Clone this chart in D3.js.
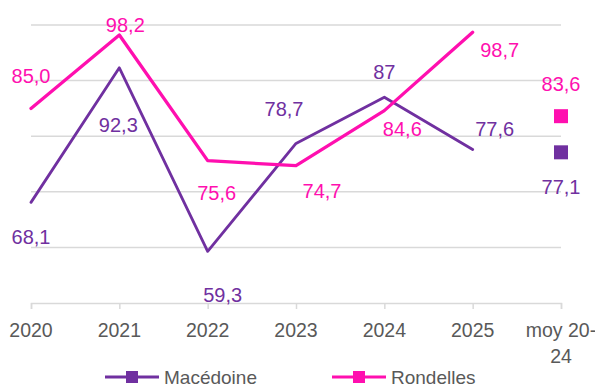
<!DOCTYPE html>
<html>
<head>
<meta charset="utf-8">
<script src="https://cdn.jsdelivr.net/npm/d3@7"></script>
<style>
  html, body { margin: 0; padding: 0; background: #fff; }
  svg { display: block; font-family: "Liberation Sans", Arial, sans-serif; }
</style>
</head>
<body>
<svg id="chart" width="595" height="388"></svg>
<script>
// Categories along the x axis (the last one is the 2020-24 average)
const categories = ["2020", "2021", "2022", "2023", "2024", "2025", "moy 20-24"];
const categoryLines = [["2020"], ["2021"], ["2022"], ["2023"], ["2024"], ["2025"], ["moy 20-", "24"]];

// Yearly values (2020-2025) and the 2020-24 average, per series
const macedoineValues = [68.1, 92.3, 59.3, 78.7, 87, 77.6];
const macedoineAverage = 77.1;
const rondellesValues = [85.0, 98.2, 75.6, 74.7, 84.6, 98.7];
const rondellesAverage = 83.6;

// Decimals shown in each value label
const macedoineDecimals = [1, 1, 1, 1, 0, 1, 1];
const rondellesDecimals = [1, 1, 1, 1, 1, 1, 1];

// Value axis gridlines
const yTicks = [50, 60, 70, 80, 90, 100];

// Label offsets (px) from each point, one pair per category
const macedoineLabelShift = [[0, 34], [-1, 57], [15, 44], [-12, -35], [0, -25], [22, -21], [0, 34]];
const rondellesLabelShift = [[0, -33], [6, -10], [9, 32], [26, 25], [18, 18], [27, 18], [0, -32]];

const colors = { macedoine: "#7030A0", rondelles: "#FF0FAF" };

const svg = d3.select("#chart");
const margin = { left: 31, right: 34, top: 25, bottom: 85 };
const W = 595, H = 388;

const x = d3.scalePoint().domain(categories).range([margin.left, W - margin.right]);
const y = d3.scaleLinear().domain([50, 100]).range([H - margin.bottom, margin.top]);

const fmt = (v, d) => d3.format("." + d + "f")(v).replace(".", ",");

// Gridlines
svg.append("g")
  .selectAll("line")
  .data(yTicks.slice(1))
  .join("line")
  .attr("x1", x.range()[0]).attr("x2", x.range()[1])
  .attr("y1", d => y(d)).attr("y2", d => y(d))
  .attr("stroke", "#d9d9d9").attr("stroke-width", 1.5);

// Category axis
const xAxis = svg.append("g")
  .attr("transform", `translate(0,${y(50)})`)
  .call(d3.axisBottom(x).tickSize(6).tickFormat(""));
xAxis.select(".domain").attr("stroke", "#d9d9d9").attr("stroke-width", 1.5);
xAxis.selectAll(".tick line").attr("stroke", "#d9d9d9").attr("stroke-width", 1.5);

const axisLabels = svg.append("g")
  .selectAll("text")
  .data(categories)
  .join("text")
  .attr("x", d => x(d))
  .attr("y", y(50) + 34)
  .attr("text-anchor", "middle")
  .attr("fill", "#595959")
  .style("font-size", "19.5px");
axisLabels.each(function (d, i) {
  const t = d3.select(this);
  categoryLines[i].forEach((ln, k) => {
    t.append("tspan").attr("x", x(d)).attr("dy", k === 0 ? 0 : 26).text(ln);
  });
});

// Series lines
const line = d3.line().x((d, i) => x(categories[i])).y(d => y(d));

function drawSeries(values, avg, color, width, decimals, shifts) {
  svg.append("path")
    .datum(values)
    .attr("d", line)
    .attr("fill", "none")
    .attr("stroke", color)
    .attr("stroke-width", width)
    .attr("stroke-linejoin", "round")
    .attr("stroke-linecap", "round");

  const avgCat = categories[categories.length - 1];
  const s = 14;
  svg.append("rect")
    .attr("x", x(avgCat) - s / 2).attr("y", y(avg) - s / 2)
    .attr("width", s).attr("height", s)
    .attr("fill", color);

  const all = values.concat([avg]);
  svg.append("g")
    .selectAll("text")
    .data(all)
    .join("text")
    .attr("x", (d, i) => x(categories[i]) + shifts[i][0])
    .attr("y", (d, i) => y(d) + shifts[i][1])
    .attr("dy", "0.36em")
    .attr("text-anchor", "middle")
    .attr("fill", color)
    .style("font-size", "20px")
    .text((d, i) => fmt(d, decimals[i]));
}

drawSeries(macedoineValues, macedoineAverage, colors.macedoine, 2.8, macedoineDecimals, macedoineLabelShift);
drawSeries(rondellesValues, rondellesAverage, colors.rondelles, 3.3, rondellesDecimals, rondellesLabelShift);

// Legend
const legendItems = [
  { name: "Macédoine", color: colors.macedoine, x0: 105 },
  { name: "Rondelles", color: colors.rondelles, x0: 332 }
];
const lg = svg.append("g");
legendItems.forEach(it => {
  const ly = 377;
  lg.append("line")
    .attr("x1", it.x0).attr("x2", it.x0 + 54)
    .attr("y1", ly).attr("y2", ly)
    .attr("stroke", it.color).attr("stroke-width", 3);
  lg.append("rect")
    .attr("x", it.x0 + 27 - 6).attr("y", ly - 6)
    .attr("width", 12).attr("height", 12)
    .attr("fill", it.color);
  lg.append("text")
    .attr("x", it.x0 + 59).attr("y", ly).attr("dy", "0.36em")
    .attr("fill", "#595959")
    .style("font-size", "19px")
    .text(it.name);
});
</script>
</body>
</html>
